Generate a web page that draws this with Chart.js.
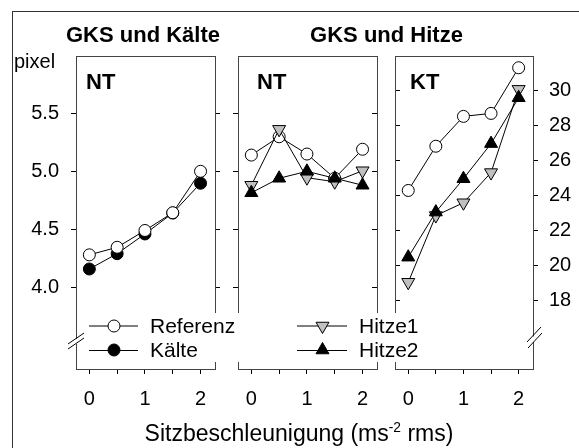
<!DOCTYPE html>
<html><head><meta charset="utf-8">
<script src="https://cdn.jsdelivr.net/npm/chart.js@4"></script>
<style>
html,body{margin:0;padding:0;background:#fff;}
#wrap{position:relative;width:579px;height:448px;overflow:hidden;font-family:'Liberation Sans',Arial,sans-serif;color:#000;}
canvas{position:absolute;left:0;top:0;}
.t{position:absolute;white-space:nowrap;line-height:1.117;}
.b{font-weight:bold;}
#frame{position:absolute;left:12px;top:11px;width:700px;height:700px;border-left:1px solid #333;border-top:1px solid #333;}
</style></head>
<body>
<div id="wrap">
<div id="frame"></div>
<canvas id="c1" width="579" height="448"></canvas>
<canvas id="c2" width="579" height="448"></canvas>
<canvas id="c3" width="579" height="448"></canvas>
<div class="t b" style="font-size:22px;left:43px;top:23.1px;width:200px;text-align:center;">GKS und Kälte</div>
<div class="t b" style="font-size:22px;left:286.5px;top:23.1px;width:200px;text-align:center;">GKS und Hitze</div>
<div class="t" style="font-size:20px;left:14px;top:50px;">pixel</div>
<div class="t b" style="font-size:22px;left:86px;top:70px;">NT</div>
<div class="t b" style="font-size:22px;left:257px;top:70px;">NT</div>
<div class="t b" style="font-size:22px;left:410px;top:70px;">KT</div>
<div class="t" style="font-size:21px;left:150px;top:314px;">Referenz</div>
<div class="t" style="font-size:21px;left:150px;top:337.7px;">Kälte</div>
<div class="t" style="font-size:21px;left:359px;top:314px;">Hitze1</div>
<div class="t" style="font-size:21px;left:359px;top:337.7px;">Hitze2</div>
<div class="t" style="font-size:23px;left:99px;top:420.2px;width:400px;text-align:center;">Sitzbeschleunigung (ms<sup style="font-size:60%;">-2</sup> rms)</div>
</div>
<script>
// ---- data ----
const xValues = [0, 0.5, 1, 1.5, 2];
const xTickValues = [0, 0.5, 1, 1.5, 2];
const xTickLabels = ['0', '', '1', '', '2'];
const pixelTicks = [4.0, 4.5, 5.0, 5.5];
const pixelTickLabels = ['4.0', '4.5', '5.0', '5.5'];
const ktTicks = [18, 20, 22, 24, 26, 28, 30];
const ktTickLabels = ['18', '20', '22', '24', '26', '28', '30'];

const kaelteReferenz = [4.28, 4.345, 4.49, 4.643, 5.0];
const kaelte = [4.158, 4.29, 4.46, 4.64, 4.897];
const ntReferenz = [5.14, 5.298, 5.149, 4.94, 5.19];
const ntHitze1 = [4.88, 5.362, 4.945, 4.91, 5.005];
const ntHitze2 = [4.815, 4.94, 5.0, 4.94, 4.88];
const ktReferenz = [24.28, 26.8, 28.5, 28.67, 31.27];
const ktHitze1 = [19.05, 22.85, 23.58, 25.3, 30.04];
const ktHitze2 = [20.48, 23.05, 24.95, 26.95, 29.56];

// ---- style ----
const FONT = "'Liberation Sans', Arial, sans-serif";
const X_MIN = -0.24, X_MAX = 2.26;
const PIX_MIN = 3.296, PIX_MAX = 5.994;
const KT_MIN = 14.11, KT_MAX = 31.94;
const STY = {
  ref: {ps: 'circle', r: 6, rot: 0, bg: '#ffffff'},
  kal: {ps: 'circle', r: 6, rot: 0, bg: '#000000'},
  h1:  {ps: 'triangle', r: 7.5, rot: 180, bg: '#c0c0c0'},
  h2:  {ps: 'triangle', r: 7.5, rot: 0, bg: '#000000'}
};
function ds(vals, st, yID, order) {
  return {
    data: vals.map((v, i) => ({x: xValues[i], y: v})),
    yAxisID: yID, xAxisID: 'x', order: order,
    borderColor: '#000', borderWidth: 1, fill: false, tension: 0,
    pointStyle: st.ps, pointRotation: st.rot, pointRadius: st.r, pointHoverRadius: st.r,
    pointBackgroundColor: st.bg, pointBorderColor: '#000', pointBorderWidth: 1
  };
}
function xScale() {
  return { type: 'linear', axis: 'x', position: 'bottom', min: X_MIN, max: X_MAX,
    afterBuildTicks: s => { s.ticks = xTickValues.map(v => ({value: v})); },
    afterFit: s => { s.height = 60; },
    ticks: { autoSkip: false, maxRotation: 0, padding: 13, color: '#000', font: {family: FONT, size: 20},
      callback: (v, i) => xTickLabels[i] },
    grid: { drawOnChartArea: false, drawTicks: true, tickLength: 5, color: '#000' },
    border: { display: true, color: '#444', width: 1 } };
}
function topScale() {
  return { type: 'linear', axis: 'x', position: 'top', min: X_MIN, max: X_MAX,
    afterFit: s => { s.height = 0; },
    ticks: { display: false },
    grid: { drawOnChartArea: false, drawTicks: false },
    border: { display: true, color: '#444', width: 1 } };
}
function yScale(pos, min, max, tickVals, labels, tickLen, width, showLabels, pad) {
  return { type: 'linear', axis: 'y', position: pos, min: min, max: max,
    afterBuildTicks: s => { s.ticks = tickVals.map(v => ({value: v})); },
    afterFit: s => { s.width = width; },
    ticks: { display: showLabels, autoSkip: false, padding: pad, color: '#000', font: {family: FONT, size: 20},
      callback: (v, i) => labels[i] },
    grid: { drawOnChartArea: false, drawTicks: true, tickLength: tickLen, color: '#000' },
    border: { display: true, color: '#444', width: 1 } };
}
function marker(ctx, st, x, y) {
  ctx.save();
  ctx.fillStyle = st.bg; ctx.strokeStyle = '#000'; ctx.lineWidth = 1;
  Chart.helpers.drawPoint(ctx, {pointStyle: st.ps, radius: st.r, rotation: st.rot, borderWidth: 1}, x, y);
  ctx.restore();
}
function line(ctx, x1, y1, x2, y2) {
  ctx.beginPath(); ctx.moveTo(x1, y1); ctx.lineTo(x2, y2); ctx.stroke();
}
const breakLeft = { id: 'breakLeft', afterDraw(chart) {
  const ctx = chart.ctx, x = chart.chartArea.left;
  ctx.save();
  ctx.fillStyle = '#fff'; ctx.fillRect(x - 2, 339, 4, 5);
  ctx.strokeStyle = '#000'; ctx.lineWidth = 1;
  line(ctx, x - 8, 344, x + 8, 333);
  line(ctx, x - 8, 349, x + 8, 338);
  ctx.restore();
}};
const breakRightAndLegend = { id: 'brl', afterDraw(chart) {
  const ctx = chart.ctx, x = chart.chartArea.right;
  ctx.save();
  ctx.fillStyle = '#fff'; ctx.fillRect(x - 2, 336.5, 4, 5.5);
  ctx.strokeStyle = '#000'; ctx.lineWidth = 1;
  line(ctx, x - 6, 342, x + 8, 327);
  line(ctx, x - 5, 348, x + 9, 333);
  // legends
  ctx.fillStyle = '#fff';
  ctx.fillRect(85, 313, 158, 49);
  ctx.fillRect(293, 313, 132, 49);
  ctx.strokeStyle = '#000';
  line(ctx, 89, 326, 138, 326); marker(ctx, STY.ref, 114, 326);
  line(ctx, 89, 350.5, 138, 350.5); marker(ctx, STY.kal, 114, 350);
  line(ctx, 297, 326, 347, 326); marker(ctx, STY.h1, 322.5, 326);
  line(ctx, 297, 350.5, 347, 350.5); marker(ctx, STY.h2, 322.5, 350);
  ctx.restore();
}};
function makeChart(id, datasets, scales, padding, plugins) {
  return new Chart(document.getElementById(id), {
    type: 'line',
    data: { datasets: datasets },
    options: { responsive: false, animation: false, events: [],
      layout: { padding: padding },
      plugins: { legend: {display: false}, tooltip: {enabled: false} },
      scales: scales },
    plugins: plugins || []
  });
}
Chart.defaults.font.family = FONT;

makeChart('c1',
  [ds(kaelteReferenz, STY.ref, 'y', 1), ds(kaelte, STY.kal, 'y', 2)],
  { x: xScale(), xt: topScale(),
    y: yScale('left', PIX_MIN, PIX_MAX, pixelTicks, pixelTickLabels, 5, 60, true, 12),
    y2: yScale('right', PIX_MIN, PIX_MAX, pixelTicks, pixelTickLabels, 5, 10, false, 0) },
  {left: 16, right: 354, top: 56, bottom: 19}, [breakLeft]);

makeChart('c2',
  [ds(ntReferenz, STY.ref, 'y', 3), ds(ntHitze1, STY.h1, 'y', 2), ds(ntHitze2, STY.h2, 'y', 1)],
  { x: xScale(), xt: topScale(),
    y: yScale('left', PIX_MIN, PIX_MAX, pixelTicks, pixelTickLabels, 5, 10, false, 0),
    y2: yScale('right', PIX_MIN, PIX_MAX, pixelTicks, pixelTickLabels, -5, 10, false, 0) },
  {left: 228, right: 192, top: 56, bottom: 19});

makeChart('c3',
  [ds(ktReferenz, STY.ref, 'y', 3), ds(ktHitze1, STY.h1, 'y', 2), ds(ktHitze2, STY.h2, 'y', 1)],
  { x: xScale(), xt: topScale(),
    yl: yScale('left', KT_MIN, KT_MAX, ktTicks, ktTickLabels, -5, 10, false, 0),
    y: yScale('right', KT_MIN, KT_MAX, ktTicks, ktTickLabels, 5, 40, true, 11) },
  {left: 385, right: 6, top: 56, bottom: 19}, [breakRightAndLegend]);
</script>
</body></html>
